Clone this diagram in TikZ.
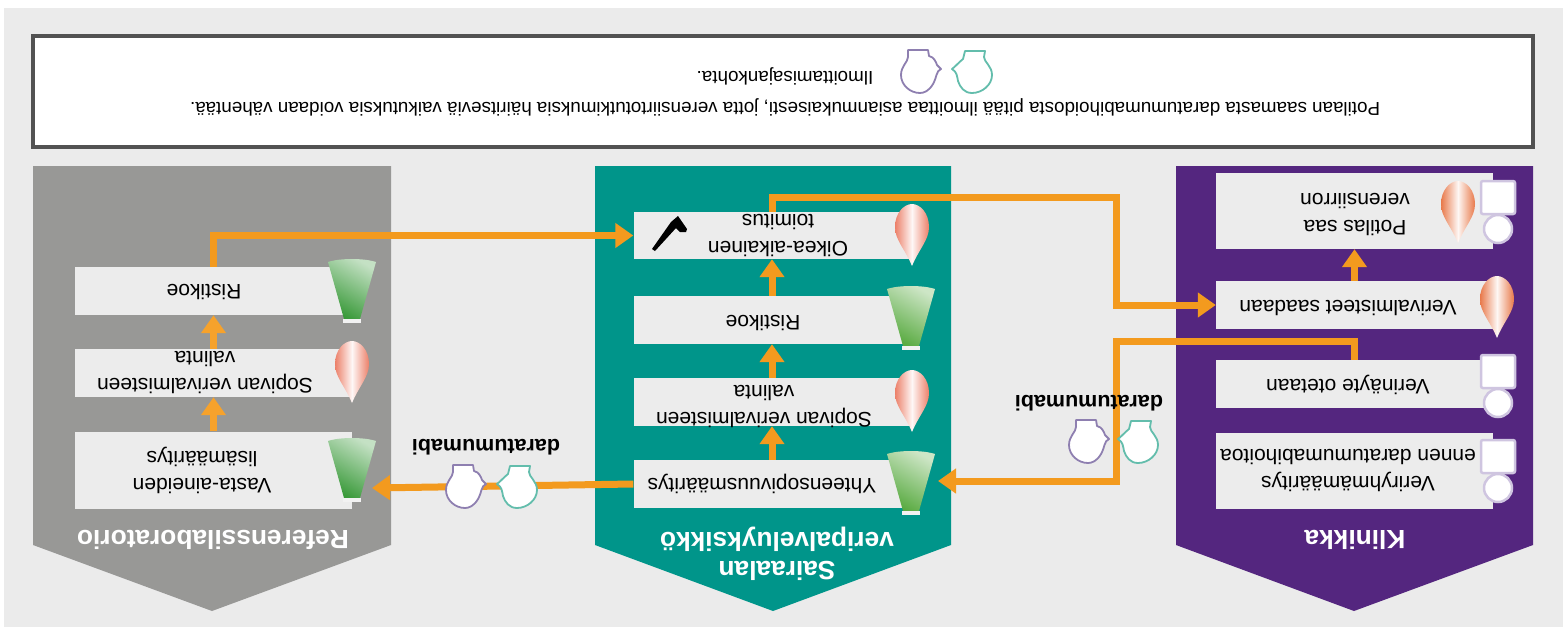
\documentclass[tikz,border=0pt]{standalone}
\usepackage{fontspec}
\setmainfont{Liberation Sans}
\usetikzlibrary{arrows.meta}
\definecolor{pagegray}{HTML}{EBEBEB}
\definecolor{clinicviolet}{HTML}{54267F}
\definecolor{hospitalteal}{HTML}{00958A}
\definecolor{labgray}{HTML}{989896}
\definecolor{floworange}{HTML}{F39A1E}
\definecolor{labflow}{HTML}{F6A22C}
\definecolor{boxgray}{HTML}{ECECEC}
\definecolor{dropred}{HTML}{EC8069}
\definecolor{droporange}{HTML}{E8794A}
\definecolor{funnelgreen}{HTML}{5AAB42}
\definecolor{funneldark}{HTML}{3A9A3A}
\definecolor{personlilac}{HTML}{CFC5E0}
\definecolor{jarviolet}{HTML}{8E7FB0}
\definecolor{jarteal}{HTML}{63BDAC}
\tikzset{
  stepbox/.style={fill=boxgray, minimum width=277pt, inner sep=0pt},
  steptext/.style={yshift=-2pt, rotate=180, align=center, font=\fontsize{21}{27}\selectfont},
  notetext/.style={rotate=180, font=\fontsize{18.8}{22}\selectfont},
  paneltitle/.style={yshift=-2pt, rotate=180, align=center, text=white, font=\fontsize{26.3}{29}\selectfont\bfseries},
  jarlabel/.style={rotate=180, font=\fontsize{21.5}{24}\selectfont\bfseries},
  flow/.style={draw=floworange, line width=7pt},
  pics/drop/.style={code={
    \shade[left color=#1, right color=#1, middle color=#1!6!white]
      (0,31) .. controls (-7,14) and (-17,5) .. (-17,-8) .. controls (-17,-22) and (-8,-31) .. (0,-31)
      .. controls (8,-31) and (17,-22) .. (17,-8) .. controls (17,5) and (7,14) .. (0,31) -- cycle;
  }},
  pics/funnel/.style={code={
    \shade[top color=#1!30!white, bottom color=#1, shading angle=-30]
      (-24,-28) .. controls (-12,-32) and (12,-32) .. (24,-28) -- (8,29) -- (-8,29) -- cycle;
    \fill[white!90!gray] (-9,29) rectangle (9,33);
  }},
  pics/person/.style={code={
    \draw[draw=#1, fill=white, line width=2.5pt, rounded corners=2pt] (-17,-24) rectangle (17,9);
    \draw[draw=#1, fill=white, line width=2.5pt] (0,24) circle (14);
  }},
  pics/jarleft/.style={code={
    \draw[draw=#1, fill=white, line width=1.8pt, line join=round]
      (-12,-21) -- (8,-21) -- (9,-15) .. controls (14,-14) and (16,-9) .. (17,-6) -- (21,-2)
      .. controls (16,0) and (17,6) .. (13,13) .. controls (9,20) and (4,22) .. (0,22)
      .. controls (-10,22) and (-19,14) .. (-19,4) .. controls (-19,-5) and (-12,-9) .. (-12,-14) -- cycle;
  }},
  pics/jarright/.style={code={
    \draw[draw=#1, fill=white, line width=1.8pt, line join=round]
      (-7,-20) -- (13,-20) -- (12,-14) .. controls (12,-9) and (20,-5) .. (20,4)
      .. controls (20,14) and (10,22) .. (0,22) .. controls (-8,22) and (-12,16) .. (-14,10)
      .. controls (-15,5) and (-15,1) .. (-20,-2) .. controls (-16,-5) and (-14,-8) .. (-9,-12) -- cycle;
  }}
}
\begin{document}
\begin{tikzpicture}[x=1pt, y=-1pt, >={Triangle[width=24pt,length=18pt]}]
  \useasboundingbox (0,0) rectangle (1567,641);
  \fill[pagegray] (4,8) rectangle (1563,627);
  \draw[draw=black!68, fill=white, line width=4pt] (33,36) rectangle (1533,147);
  % panels
  \fill[clinicviolet] (1176,166) -- (1533,166) -- (1533,545) -- (1354,611) -- (1176,545) -- cycle;
  \fill[hospitalteal] (595,166) -- (951,166) -- (951,545) -- (773,611) -- (595,545) -- cycle;
  \fill[labgray] (33,166) -- (391,166) -- (391,545) -- (212,611) -- (33,545) -- cycle;
  % boxes
  \node[stepbox, minimum height=76pt] (potilas) at (1354.5,211) {};
  \node[stepbox, minimum height=48pt] (saadaan) at (1354.5,305) {};
  \node[stepbox, minimum height=48pt] (otetaan) at (1354.5,384) {};
  \node[stepbox, minimum height=76pt] (ryhma) at (1354.5,471) {};
  \node[stepbox, minimum height=47pt] (oikea) at (772,235.5) {};
  \node[stepbox, minimum height=48pt] (risti) at (772,320) {};
  \node[stepbox, minimum height=48pt] (sopiva) at (772,402) {};
  \node[stepbox, minimum height=48pt] (yhteen) at (772,484) {};
  \node[stepbox, minimum height=48pt] (labristi) at (213.5,291) {};
  \node[stepbox, minimum height=48pt] (labsopiva) at (213.5,373) {};
  \node[stepbox, minimum height=77pt] (vasta) at (213.5,470) {};
  % connectors
  \coordinate (bendsample) at (1116,341);
  \coordinate (tipsample) at (938,481);
  \coordinate (bendready) at (1116,197);
  \coordinate (tiplab) at (372,488);
  \draw[flow, ->] (saadaan.north) -- (potilas.south);
  \draw[flow, ->] (otetaan.north) |- (bendsample) |- (tipsample);
  \draw[flow, ->] (oikea.north) |- (bendready) |- (saadaan.west);
  \draw[flow, ->] (yhteen.north) -- (sopiva.south);
  \draw[flow, ->] (sopiva.north) -- (risti.south);
  \draw[flow, ->] (risti.north) -- (oikea.south);
  \draw[flow, ->] (yhteen.west) -- (tiplab);
  \draw[flow, ->] (labristi.north) |- (oikea.west);
  \draw[flow, draw=labflow, ->] (vasta.north) -- (labsopiva.south);
  \draw[flow, draw=labflow, ->] (labsopiva.north) -- (labristi.south);
  % icons
  \pic at (1498,205) {person=personlilac};
  \pic at (1498,379) {person=personlilac};
  \pic at (1498,464) {person=personlilac};
  \pic at (1458,212) {drop=droporange};
  \pic at (1497,307) {drop=droporange};
  \pic at (912,235) {drop=dropred};
  \pic at (912,401) {drop=dropred};
  \pic at (352,372) {drop=dropred};
  \pic at (911,317) {funnel=funnelgreen};
  \pic at (911,482) {funnel=funnelgreen};
  \pic at (352,290) {funnel=funneldark};
  \pic at (352,469) {funnel=funneldark};
  \pic at (920,71) {jarleft=jarviolet};
  \pic at (972,71) {jarright=jarteal};
  \pic at (1088,441) {jarleft=jarviolet};
  \pic at (1138,441) {jarright=jarteal};
  \pic at (465,486) {jarleft=jarviolet};
  \pic at (517,486) {jarright=jarteal};
  \fill (652,249) -- (671,222) -- (678,216) -- (687,229) -- (686,232) -- (680,232) -- (676,228) -- (655,251) -- cycle;
  % texts
  \node[notetext] (notefirst) at (785,107) {Potilaan saamasta daratumumabihoidosta pitää ilmoittaa asianmukaisesti, jotta verensiirtotutkimuksia häiritseviä vaikutuksia voidaan vähentää.};
  \node[notetext] (notesecond) at (785,76) {Ilmoittamisajankohta.};
  \node[paneltitle] (klinikka) at (1355,538) {Klinikka};
  \node[paneltitle] (sairaala) at (777,552) {Sairaalan\\veripalveluyksikkö};
  \node[paneltitle] (referenssi) at (213,538) {Referenssilaboratorio};
  \node[steptext] (tpotilas) at (1355,212) {Potilas saa\\verensiirron};
  \node[steptext] (tsaadaan) at (1348,305.5) {Verivalmisteet saadaan};
  \node[steptext] (totetaan) at (1348,383) {Verinäyte otetaan};
  \node[steptext] (tryhma) at (1348,468) {Veriryhmämääritys\\ennen daratumumabihoitoa};
  \node[steptext] (toikea) at (778,233) {Oikea-aikainen\\toimitus};
  \node[steptext] (tristi) at (763,320.5) {Ristikoe};
  \node[steptext] (tsopiva) at (764,404) {Sopivan verivalmisteen\\valinta};
  \node[steptext] (tyhteen) at (762,482) {Yhteensopivuusmääritys};
  \node[steptext] (tlabristi) at (204,289.5) {Ristikoe};
  \node[steptext] (tlabsopiva) at (205,370) {Sopivan verivalmisteen\\valinta};
  \node[steptext] (tvasta) at (202,468) {Vasta-aineiden\\lisämääritys};
  \node[jarlabel] (dararight) at (1089,403) {daratumumabi};
  \node[jarlabel] (daraleft) at (486,447) {daratumumabi};
\end{tikzpicture}
\end{document}
